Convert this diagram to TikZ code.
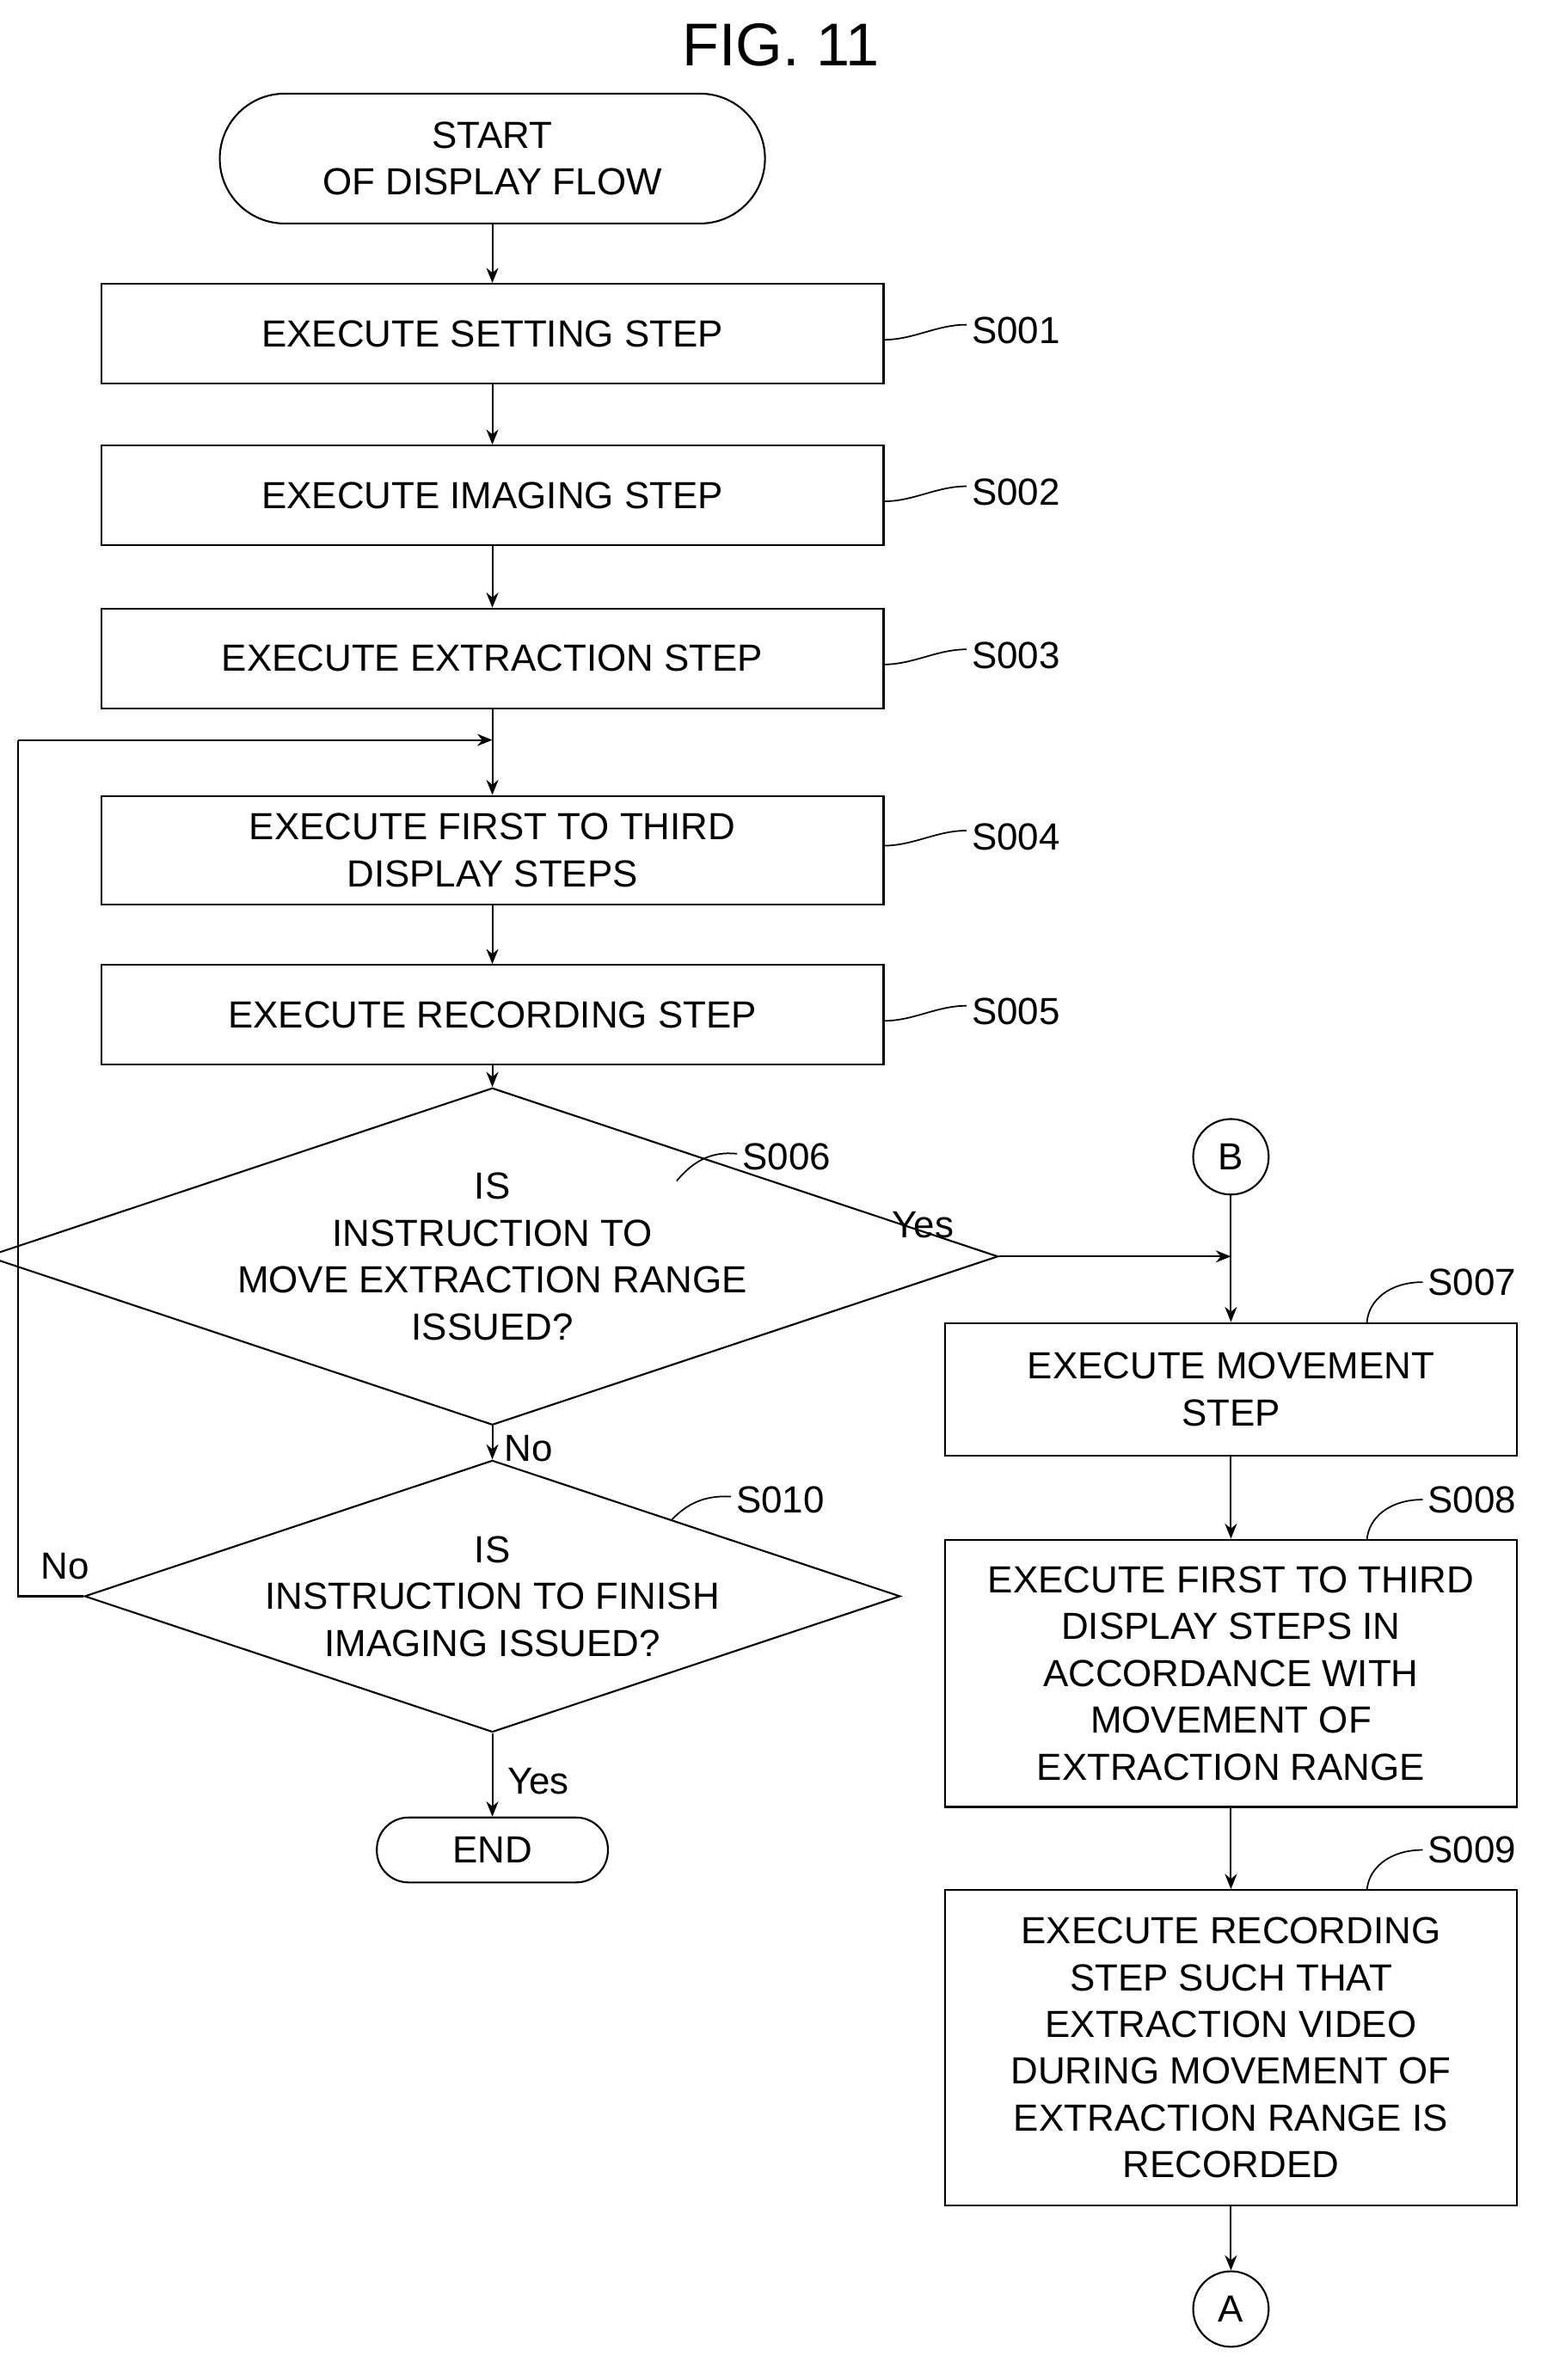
\documentclass[tikz,border=0pt]{standalone}
\usepackage{fontspec}
\setmainfont{Liberation Sans}
\usetikzlibrary{shapes.geometric,arrows.meta}
\begin{document}
\begin{tikzpicture}[x=1pt,y=-1pt,
  every node/.style={font=\fontsize{25}{31}\selectfont},
  box/.style={draw,line width=1.2pt,minimum height=66pt,align=center,inner sep=0pt},
  dia/.style={draw,line width=1.2pt,diamond,aspect=3,minimum width=518pt,minimum height=172pt,align=center,inner sep=0pt},
  term/.style={draw,line width=1.2pt,rounded corners=28pt,align=center,inner sep=0pt},
  circ/.style={draw,line width=1.2pt,circle,minimum size=50pt,inner sep=0pt},
  arr/.style={line width=1.2pt,-{Stealth[length=10pt,width=8pt]}},
  ln/.style={line width=1.2pt},
  sq/.style={line width=1pt}]
\useasboundingbox (0,0) rectangle (1024,1576);
\node[font=\fontsize{40}{44}\selectfont] (title) at (517,30) {FIG. 11};
\node[term,minimum width=361pt,minimum height=86pt,rounded corners=43pt] (start) at (326,105) {START\\OF DISPLAY FLOW};
\node[box,minimum width=518pt] (s1) at (326,221) {EXECUTE SETTING STEP};
\node[box,minimum width=518pt] (s2) at (326,328) {EXECUTE IMAGING STEP};
\node[box,minimum width=518pt] (s3) at (326,436) {EXECUTE EXTRACTION STEP};
\node[box,minimum width=518pt,minimum height=72pt] (s4) at (326,563) {EXECUTE FIRST TO THIRD\\DISPLAY STEPS};
\node[box,minimum width=518pt] (s5) at (326,672) {EXECUTE RECORDING STEP};
\node[dia] (s6) at (326,832) {IS\\INSTRUCTION TO\\MOVE EXTRACTION RANGE\\ISSUED?};
\node[dia,minimum height=160pt] (s10) at (326,1057) {IS\\INSTRUCTION TO FINISH\\IMAGING ISSUED?};
\node[term,minimum width=153pt,minimum height=43pt,rounded corners=21pt] (end) at (326,1225) {END};
\node[circ] (B) at (815,766) {B};
\node[box,minimum width=379pt,minimum height=88pt] (s7) at (815,920) {EXECUTE MOVEMENT\\STEP};
\node[box,minimum width=379pt,minimum height=177pt] (s8) at (815,1108) {EXECUTE FIRST TO THIRD\\DISPLAY STEPS IN\\ACCORDANCE WITH\\MOVEMENT OF\\EXTRACTION RANGE};
\node[box,minimum width=379pt,minimum height=209pt] (s9) at (815,1356) {EXECUTE RECORDING\\STEP SUCH THAT\\EXTRACTION VIDEO\\DURING MOVEMENT OF\\EXTRACTION RANGE IS\\RECORDED};
\node[circ] (A) at (815,1529) {A};
\coordinate (j) at (326,490);
\coordinate (lb) at (12,1057);
\coordinate (lt) at (12,490);
\coordinate (yj) at (815,832);
\draw[arr] (start) -- (s1);
\draw[arr] (s1) -- (s2);
\draw[arr] (s2) -- (s3);
\draw[ln] (s3) -- (j);
\draw[arr] (j) -- (s4);
\draw[arr] (s4) -- (s5);
\draw[arr] (s5) -- (s6);
\draw[arr] (s6) -- node[right,xshift=4pt,yshift=-4pt]{No} (s10);
\draw[arr] (s10) -- node[right,xshift=6pt,yshift=-4pt]{Yes} (end);
\draw[ln] (s10.west) -- (lb) -- (lt);
\draw[arr] (lt) -- (j);
\node (no2) at (43,1037) {No};
\draw[arr] (s6.east) -- (yj);
\node (yes1) at (611,811) {Yes};
\draw[ln] (B) -- (yj);
\draw[arr] (yj) -- (s7);
\draw[arr] (s7) -- (s8);
\draw[arr] (s8) -- (s9);
\draw[arr] (s9) -- (A);
% step labels
\foreach \n/\y/\t in {s1/221/S001,s2/328/S002,s3/436/S003,s4/556/S004,s5/672/S005}{
  \node[anchor=west] (l\n) at (640,\y-2) {\t};
  \draw[sq] (585,\y+4) .. controls (605,\y+4) and (620,\y-6) .. (640,\y-6);
}
\node[anchor=west] (l6) at (488,766) {S006};
\draw[sq] (448,782) .. controls (458,770) and (470,762) .. (488,764);
\node[anchor=west] (l10) at (484,993) {S010};
\draw[sq] (445,1006) .. controls (455,996) and (466,990) .. (484,991);
\foreach \n/\y/\t in {s7/876/S007,s8/1020/S008,s9/1252/S009}{
  \node[anchor=west] (l\n) at (942,\y-27) {\t};
  \draw[sq] (905,\y) .. controls (906,\y-15) and (920,\y-27) .. (942,\y-27);
}
\end{tikzpicture}
\end{document}
